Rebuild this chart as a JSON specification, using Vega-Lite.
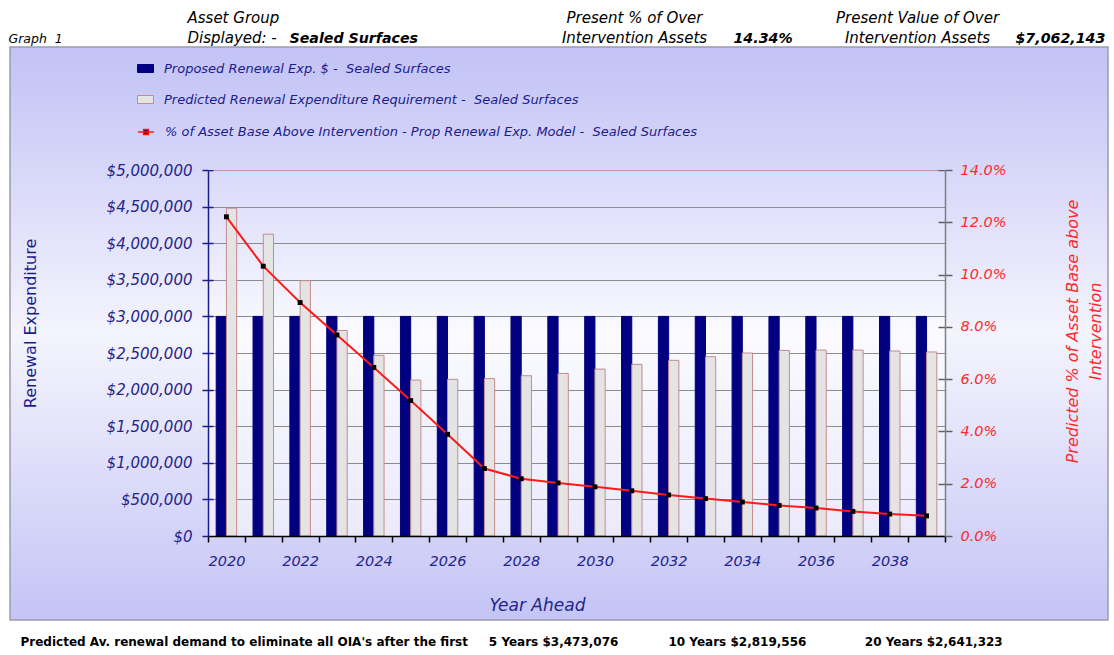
{
  "$schema": "https://vega.github.io/schema/vega-lite/v6.json",
  "width": 737,
  "height": 366,
  "autosize": {"type": "none"},
  "padding": {"left": 208, "top": 170, "right": 169, "bottom": 119},
  "background": "white",
  "view": {
    "stroke": null,
    "fill": {"gradient": "linear", "x1": 0, "y1": 0, "x2": 0, "y2": 1,
      "stops": [{"offset": 0, "color": "#d9d9fb"}, {"offset": 0.45, "color": "#fafaff"}, {"offset": 1, "color": "#eaeafc"}]}
  },
  "config": {
    "font": "DejaVu Sans",
    "axis": {"labelFont": "DejaVu Sans", "titleFont": "DejaVu Sans", "titlePadding": 0},
    "legend": {"labelFont": "DejaVu Sans"}
  },
  "resolve": {"scale": {"x": "independent", "y": "independent"}},
  "layer": [
    {
      "data": {"values": [{}]},
      "mark": {"type": "rect", "fill": {"gradient": "linear", "x1": 0, "y1": 0, "x2": 0, "y2": 1,
        "stops": [{"offset": 0, "color": "#c2c2f6"}, {"offset": 1, "color": "#d7d7f9"}]}},
      "encoding": {
        "x": {"datum": 10, "type": "quantitative", "scale": {"domain": [0, 1114], "range": [-208, 906], "nice": false, "zero": false},
          "axis": {"orient": "top", "labels": false, "ticks": false, "domain": false, "grid": false, "zindex": 1,
            "title": ["Asset Group", "Displayed: -"], "titleX": -21, "titleY": -148, "titleAlign": "left", "titleBaseline": "alphabetic", "titleAngle": 0,
            "titleFontSize": 15, "titleFontStyle": "italic", "titleFontWeight": "normal", "titleColor": "#000000", "titleLineHeight": 20}},
        "x2": {"datum": 1108},
        "y": {"datum": 47, "type": "quantitative", "scale": {"domain": [0, 655], "range": [-170, 485], "nice": false, "zero": false},
          "axis": {"orient": "left", "labels": false, "ticks": false, "domain": false, "grid": false, "zindex": 1,
            "title": ["Present % of Over", "Intervention Assets"], "titleX": 426, "titleY": -148, "titleAlign": "center", "titleBaseline": "alphabetic", "titleAngle": 0,
            "titleFontSize": 15, "titleFontStyle": "italic", "titleFontWeight": "normal", "titleColor": "#000000", "titleLineHeight": 20}},
        "y2": {"datum": 170}
      }
    },
    {
      "data": {"values": [{}]},
      "mark": {"type": "rect", "fill": {"gradient": "linear", "x1": 0, "y1": 0, "x2": 0, "y2": 1,
        "stops": [{"offset": 0, "color": "#d2d2f8"}, {"offset": 1, "color": "#c4c4f6"}]}},
      "encoding": {
        "x": {"datum": 10, "type": "quantitative", "scale": {"domain": [0, 1114], "range": [-208, 906], "nice": false, "zero": false},
          "axis": {"orient": "bottom", "labels": false, "ticks": false, "domain": false, "grid": false, "zindex": 1,
            "title": "Predicted Av. renewal demand to eliminate all OIA's after the first\u00a0\u00a0\u00a0\u00a0\u00a05 Years $3,473,076\u00a0\u00a0\u00a0\u00a0\u00a0\u00a0\u00a0\u00a0\u00a0\u00a0\u00a0\u00a010 Years $2,819,556\u00a0\u00a0\u00a0\u00a0\u00a0\u00a0\u00a0\u00a0\u00a0\u00a0\u00a0\u00a0\u00a0\u00a020 Years $2,641,323",
            "titleX": -188, "titleY": 109, "titleAlign": "left", "titleBaseline": "alphabetic", "titleAngle": 0,
            "titleFontSize": 12, "titleFontStyle": "normal", "titleFontWeight": "bold", "titleColor": "#000000", "titleLimit": 1100}},
        "x2": {"datum": 1108},
        "y": {"datum": 536, "type": "quantitative", "scale": {"domain": [0, 655], "range": [-170, 485], "nice": false, "zero": false},
          "axis": {"orient": "left", "labels": false, "ticks": false, "domain": false, "grid": false, "zindex": 1,
            "title": ["Present Value of Over", "Intervention Assets"], "titleX": 709, "titleY": -148, "titleAlign": "center", "titleBaseline": "alphabetic", "titleAngle": 0,
            "titleFontSize": 15, "titleFontStyle": "italic", "titleFontWeight": "normal", "titleColor": "#000000", "titleLineHeight": 20}},
        "y2": {"datum": 620}
      }
    },
    {
      "data": {"values": [{}]},
      "mark": {"type": "rect", "fill": {"gradient": "linear", "x1": 0, "y1": 0, "x2": 0, "y2": 1,
        "stops": [{"offset": 0, "color": "#d7d7f9"}, {"offset": 0.45, "color": "#f4f4fd"}, {"offset": 1, "color": "#d2d2f8"}]}},
      "encoding": {
        "x": {"datum": 10, "type": "quantitative", "scale": {"domain": [0, 1114], "range": [-208, 906], "nice": false, "zero": false},
          "axis": {"orient": "top", "labels": false, "ticks": false, "domain": false, "grid": false, "zindex": 1,
            "title": "14.34%", "titleX": 525, "titleY": -128, "titleAlign": "left", "titleBaseline": "alphabetic", "titleAngle": 0,
            "titleFontSize": 14.2, "titleFontStyle": "italic", "titleFontWeight": "bold", "titleColor": "#000000"}},
        "x2": {"datum": 208},
        "y": {"datum": 0, "type": "quantitative", "scale": {"domain": [0, 5000000], "nice": false, "zero": true},
          "axis": {"orient": "left", "zindex": 1, "grid": false,
            "values": [0, 500000, 1000000, 1500000, 2000000, 2500000, 3000000, 3500000, 4000000, 4500000, 5000000],
            "format": "$,.0f", "domainColor": "#1c1c8c", "domainWidth": 1.5, "tickColor": "#1c1c8c", "tickWidth": 1.5, "tickSize": 6,
            "labelFontSize": 15, "labelFontStyle": "italic", "labelColor": "#24248a", "labelPadding": 10,
            "title": "Renewal Expenditure", "titleFontSize": 16, "titleFontStyle": "normal", "titleFontWeight": "normal", "titleColor": "#1c1c8c",
            "titleAngle": 270, "titleX": -178, "titleY": 153, "titleAlign": "center", "titleBaseline": "middle"}},
        "y2": {"datum": 5000000}
      }
    },
    {
      "data": {"values": [{}]},
      "mark": {"type": "rect", "fill": {"gradient": "linear", "x1": 0, "y1": 0, "x2": 0, "y2": 1,
        "stops": [{"offset": 0, "color": "#d7d7f9"}, {"offset": 0.45, "color": "#f4f4fd"}, {"offset": 1, "color": "#d2d2f8"}]}},
      "encoding": {
        "x": {"datum": 945, "type": "quantitative", "scale": {"domain": [0, 1114], "range": [-208, 906], "nice": false, "zero": false},
          "axis": {"orient": "top", "labels": false, "ticks": false, "domain": false, "grid": false, "zindex": 1,
            "title": "$7,062,143", "titleX": 807, "titleY": -128, "titleAlign": "left", "titleBaseline": "alphabetic", "titleAngle": 0,
            "titleFontSize": 14.2, "titleFontStyle": "italic", "titleFontWeight": "bold", "titleColor": "#000000"}},
        "x2": {"datum": 1108},
        "y": {"datum": 0, "type": "quantitative", "scale": {"domain": [0, 14], "nice": false, "zero": true},
          "axis": {"orient": "right", "zindex": 1, "grid": false,
            "values": [0, 2, 4, 6, 8, 10, 12, 14],
            "labelExpr": "format(datum.value, '.1f') + '%'", "domainColor": "#808080", "domainWidth": 1.5, "tickColor": "#606060", "tickWidth": 1.5, "tickSize": 7,
            "labelFontSize": 14.5, "labelFontStyle": "italic", "labelColor": "#ff2a2a", "labelPadding": 8,
            "title": ["Predicted % of Asset Base above", "Intervention"], "titleFontSize": 16, "titleFontStyle": "italic", "titleFontWeight": "normal", "titleColor": "#ff2a2a",
            "titleAngle": 270, "titleX": 127, "titleY": 161, "titleAlign": "center", "titleBaseline": "middle", "titleLineHeight": 23}},
        "y2": {"datum": 14}
      }
    },
    {
      "data": {"values": [{}]},
      "mark": {"type": "rect", "filled": false, "stroke": "#9c9cac", "strokeWidth": 1.5},
      "encoding": {
        "x": {"datum": 10, "type": "quantitative", "scale": {"domain": [0, 1114], "range": [-208, 906], "nice": false, "zero": false},
          "axis": {"orient": "top", "labels": false, "ticks": false, "domain": false, "grid": false, "zindex": 1,
            "title": "Graph\u00a0\u00a01", "titleX": -200, "titleY": -128, "titleAlign": "left", "titleBaseline": "alphabetic", "titleAngle": 0,
            "titleFontSize": 12.5, "titleFontStyle": "italic", "titleFontWeight": "normal", "titleColor": "#000000"}},
        "x2": {"datum": 1108},
        "y": {"datum": 47, "type": "quantitative", "scale": {"domain": [0, 655], "range": [-170, 485], "nice": false, "zero": false},
          "axis": {"orient": "left", "labels": false, "ticks": false, "domain": false, "grid": false, "zindex": 1,
            "title": "Sealed Surfaces", "titleX": 81, "titleY": -128, "titleAlign": "left", "titleBaseline": "alphabetic", "titleAngle": 0,
            "titleFontSize": 14.2, "titleFontStyle": "italic", "titleFontWeight": "bold", "titleColor": "#000000"}},
        "y2": {"datum": 620}
      }
    },
    {
      "data": {"values": [
        {"year": 2020, "proposed": 3000000, "predicted": 4478000, "pct": 12.21},
        {"year": 2021, "proposed": 3000000, "predicted": 4123000, "pct": 10.32},
        {"year": 2022, "proposed": 3000000, "predicted": 3488000, "pct": 8.93},
        {"year": 2023, "proposed": 3000000, "predicted": 2808000, "pct": 7.69},
        {"year": 2024, "proposed": 3000000, "predicted": 2468000, "pct": 6.45},
        {"year": 2025, "proposed": 3000000, "predicted": 2130000, "pct": 5.18},
        {"year": 2026, "proposed": 3000000, "predicted": 2140000, "pct": 3.89},
        {"year": 2027, "proposed": 3000000, "predicted": 2150000, "pct": 2.58},
        {"year": 2028, "proposed": 3000000, "predicted": 2190000, "pct": 2.19},
        {"year": 2029, "proposed": 3000000, "predicted": 2220000, "pct": 2.03},
        {"year": 2030, "proposed": 3000000, "predicted": 2280000, "pct": 1.88},
        {"year": 2031, "proposed": 3000000, "predicted": 2345000, "pct": 1.73},
        {"year": 2032, "proposed": 3000000, "predicted": 2400000, "pct": 1.57},
        {"year": 2033, "proposed": 3000000, "predicted": 2450000, "pct": 1.43},
        {"year": 2034, "proposed": 3000000, "predicted": 2500000, "pct": 1.30},
        {"year": 2035, "proposed": 3000000, "predicted": 2535000, "pct": 1.17},
        {"year": 2036, "proposed": 3000000, "predicted": 2540000, "pct": 1.07},
        {"year": 2037, "proposed": 3000000, "predicted": 2540000, "pct": 0.94},
        {"year": 2038, "proposed": 3000000, "predicted": 2527000, "pct": 0.84},
        {"year": 2039, "proposed": 3000000, "predicted": 2514000, "pct": 0.77}
      ]},
      "resolve": {"scale": {"y": "independent"}},
      "layer": [
        {
          "transform": [{"fold": ["proposed", "predicted"], "as": ["series", "value"]}],
          "mark": {"type": "bar", "strokeWidth": 1},
          "encoding": {
            "x": {"field": "year", "type": "ordinal", "scale": {"paddingInner": 0, "paddingOuter": 0},
              "axis": {"orient": "bottom", "zindex": 1, "grid": false, "domainColor": "#000000", "domainWidth": 1.5,
                "tickColor": "#000000", "tickWidth": 1.5, "tickSize": 6, "tickBand": "extent",
                "labelAngle": 0, "labelFontSize": 14.5, "labelFontStyle": "italic", "labelColor": "#24248a", "labelPadding": 12,
                "labelExpr": "datum.value % 2 == 0 ? datum.label : ''",
                "title": "Year Ahead", "titleFontSize": 17, "titleFontStyle": "italic", "titleFontWeight": "normal", "titleColor": "#24248a",
                "titleX": 329, "titleY": 74, "titleAlign": "center", "titleBaseline": "alphabetic"}},
            "xOffset": {"field": "series", "type": "nominal", "scale": {"domain": ["proposed", "predicted"], "paddingInner": 0, "paddingOuter": 0.8}},
            "y": {"field": "value", "type": "quantitative", "scale": {"domain": [0, 5000000], "nice": false},
              "axis": {"orient": "left", "zindex": 0, "grid": true, "labels": false, "domain": false, "ticks": true, "tickSize": -5,
                "tickColor": "#1c1c8c", "tickWidth": 1.5,
                "gridColor": {"condition": {"test": "datum.value >= 5000000", "value": "#c8909c"}, "value": "#8c8c8c"}, "gridWidth": 1.2,
                "values": [500000, 1000000, 1500000, 2000000, 2500000, 3000000, 3500000, 4000000, 4500000, 5000000], "title": null}},
            "fill": {"field": "series", "type": "nominal",
              "scale": {"domain": ["proposed", "predicted"], "range": ["#000080", "#e4e4e4"]},
              "legend": {"orient": "none", "legendX": -71, "legendY": -110, "title": null, "direction": "vertical",
                "symbolType": "M-1,-0.5H1V0.5H-1Z", "symbolSize": 256, "symbolStrokeWidth": 1,
                "labelFontSize": 13, "labelFontStyle": "italic", "labelColor": "#1c1c8c", "labelLimit": 800,
                "rowPadding": 15, "labelOffset": 10, "padding": 0, "zindex": 1,
                "labelExpr": "datum.label == 'proposed' ? 'Proposed Renewal Exp. $ -\u00a0 Sealed Surfaces' : 'Predicted Renewal Expenditure Requirement -\u00a0 Sealed Surfaces'"}},
            "stroke": {"field": "series", "type": "nominal",
              "scale": {"domain": ["proposed", "predicted"], "range": ["#000080", "#c48c8c"]},
              "legend": {"orient": "none", "legendX": -71, "legendY": -110, "title": null, "direction": "vertical",
                "symbolType": "M-1,-0.5H1V0.5H-1Z", "symbolSize": 256, "symbolStrokeWidth": 1,
                "labelFontSize": 13, "labelFontStyle": "italic", "labelColor": "#1c1c8c", "labelLimit": 800,
                "rowPadding": 15, "labelOffset": 10, "padding": 0, "zindex": 1,
                "labelExpr": "datum.label == 'proposed' ? 'Proposed Renewal Exp. $ -\u00a0 Sealed Surfaces' : 'Predicted Renewal Expenditure Requirement -\u00a0 Sealed Surfaces'"}}
          }
        },
        {
          "layer": [
            {
              "mark": {"type": "line", "strokeWidth": 2},
              "encoding": {
                "x": {"field": "year", "type": "ordinal"},
                "y": {"field": "pct", "type": "quantitative", "scale": {"domain": [0, 14], "nice": false},
                  "axis": {"orient": "right", "zindex": 0, "labels": false, "domain": false, "grid": false, "ticks": true, "tickSize": -7,
                    "tickColor": "#606060", "tickWidth": 1.5, "values": [0, 2, 4, 6, 8, 10, 12, 14], "title": null}},
                "color": {"datum": "% of Asset Base Above Intervention - Prop Renewal Exp. Model -\u00a0 Sealed Surfaces", "type": "nominal",
                  "scale": {"range": ["#ff1a1a"]},
                  "legend": {"orient": "none", "legendX": -71, "legendY": -47, "title": null,
                    "symbolType": "M-1,0H1M-0.3,-0.3H0.3V0.3H-0.3Z", "symbolSize": 256, "symbolStrokeWidth": 1.5, "symbolFillColor": "#000000",
                    "labelFontSize": 13, "labelFontStyle": "italic", "labelColor": "#1c1c8c", "labelLimit": 800,
                    "labelOffset": 10, "padding": 0, "zindex": 1,
                    "encode": {"symbols": {"update": {"fill": {"value": "#000000"}}}}}}
              }
            },
            {
              "mark": {"type": "point", "shape": "square", "filled": true, "color": "#000000", "size": 24, "opacity": 1},
              "encoding": {
                "x": {"field": "year", "type": "ordinal"},
                "y": {"field": "pct", "type": "quantitative"}
              }
            }
          ]
        }
      ]
    }
  ]
}
